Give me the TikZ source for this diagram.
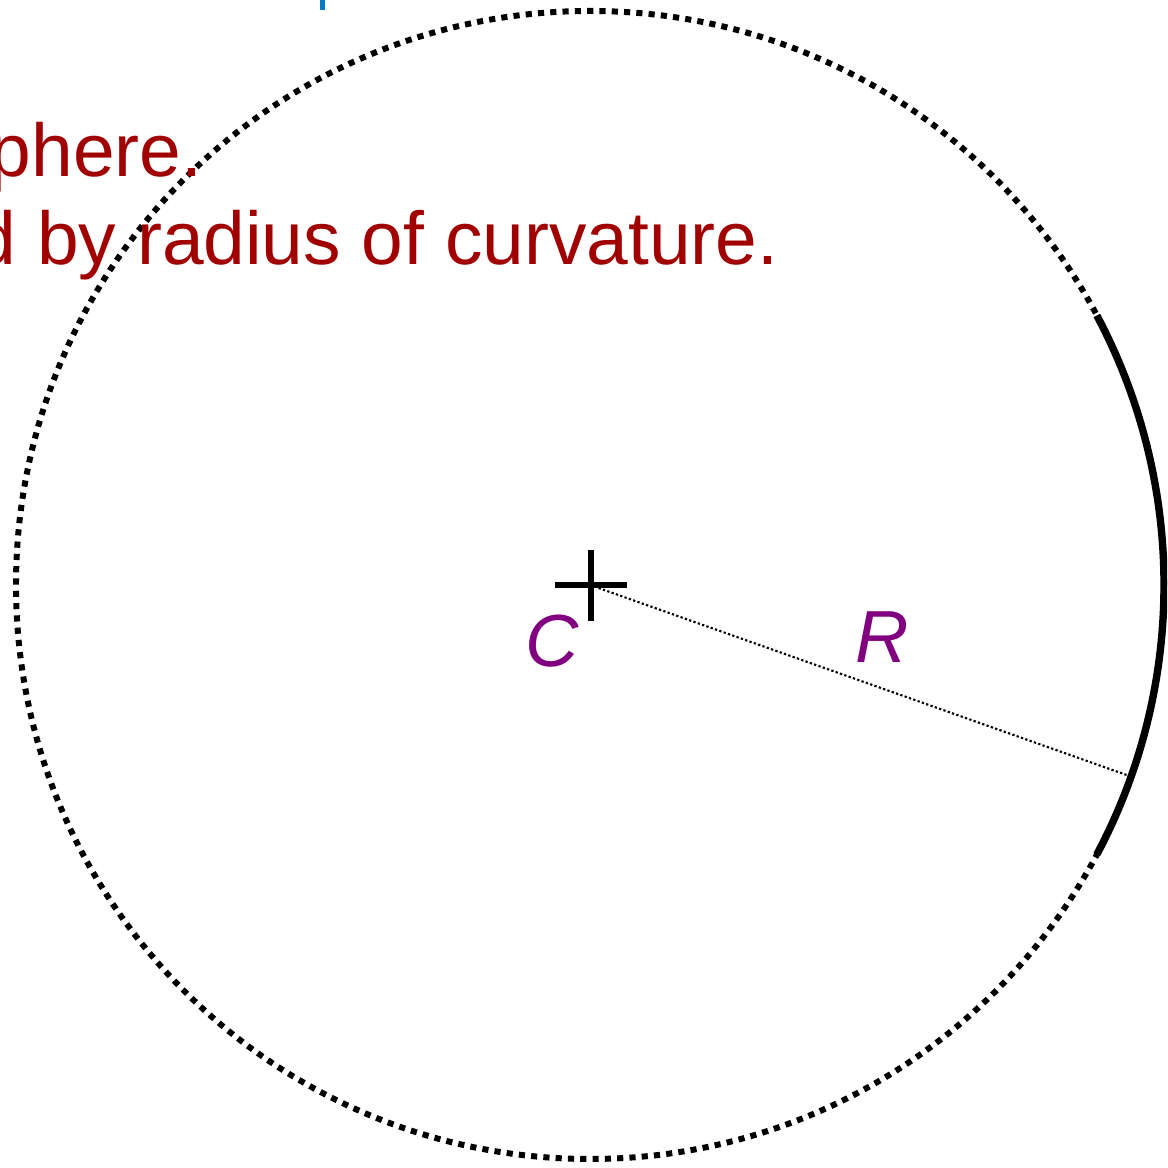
\documentclass[tikz,border=0pt]{standalone}
\usepackage{fontspec}
\setmainfont{Liberation Sans}
\usetikzlibrary{calc}
\definecolor{notered}{RGB}{160,0,0}
\definecolor{labelpurple}{RGB}{128,0,128}
\definecolor{tickblue}{RGB}{0,120,200}
\tikzset{
  sphere/.style={line width=1.7pt,dash pattern=on 1.75pt off 1.75pt},
  radiusline/.style={line width=0.6pt,dash pattern=on 0.65pt off 0.65pt},
  ptlabel/.style={labelpurple,inner sep=0pt,font=\fontsize{21}{24}\selectfont\itshape},
  note/.style={notered,inner sep=0pt,font=\fontsize{21.3}{24.8}\selectfont}
}
\begin{document}
\begin{tikzpicture}[x=0.01cm,y=0.01cm]
        \useasboundingbox (0,0) rectangle (1167,1168);
        \clip (0,0) rectangle (1167,1168);
        % reference sphere (dotted)
        \coordinate (C) at (590,583);
        \draw[sphere] (C) circle (574);
        % surface patch (thick)
        \draw[line width=2.1pt] ($(C)+(-28:574)$) arc[start angle=-28,end angle=28,radius=574];
        % centre of curvature and radius
        \draw[line width=1.5pt] ($(C)+(-35,0)$) -- ($(C)+(37,0)$);
        \draw[line width=1.5pt] ($(C)+(1,-36)$) -- ($(C)+(1,35)$);
        \coordinate (Rend) at ($(C)+(-19.5:570)$);
        \draw[radiusline] (C) -- (Rend);
        \node[ptlabel] (Clabel) at (552,527) {C};
        \node[ptlabel] (Rlabel) at (882,531) {R};
        % notes (cut off at the left)
        \node[note,anchor=base east] (noteA) at (203,991) {phere.};
        \node[note,anchor=base east] (noteB) at (779,903) {d by radius of curvature.};
        \draw[tickblue,line width=1.4pt] (322.5,1168) -- (322.5,1158);
    \end{tikzpicture}
\end{document}
